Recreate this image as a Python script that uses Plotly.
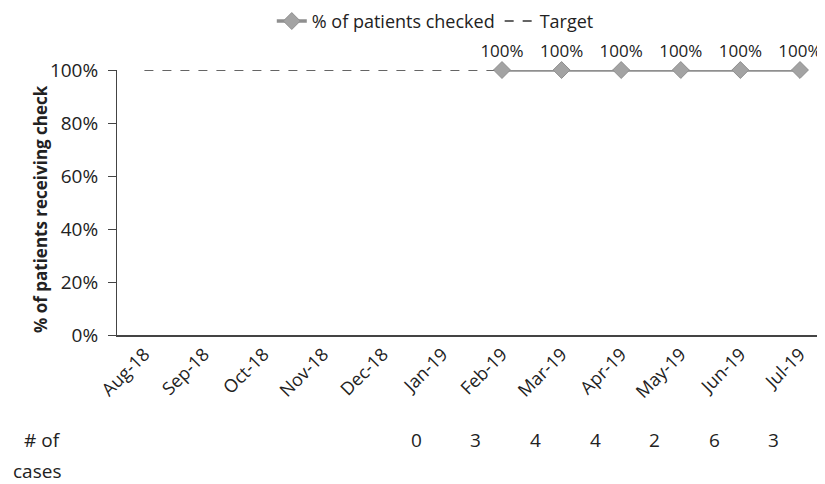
import plotly.graph_objects as go

months = ["Aug-18", "Sep-18", "Oct-18", "Nov-18", "Dec-18", "Jan-19",
          "Feb-19", "Mar-19", "Apr-19", "May-19", "Jun-19", "Jul-19"]
pct_checked = [None, None, None, None, None, None, 1.0, 1.0, 1.0, 1.0, 1.0, 1.0]
target = [1.0] * 12
cases_months = ["Jan-19", "Feb-19", "Mar-19", "Apr-19", "May-19", "Jun-19", "Jul-19"]
cases = [0, 3, 4, 4, 2, 6, 3]

FONT = "Open Sans"
TXT = "#222222"
fig = go.Figure()
fig.add_trace(go.Scatter(
    x=months, y=target, mode="lines", name="Target",
    line=dict(color="#333333", width=1.5, dash="dash"),
))
fig.add_trace(go.Scatter(
    x=months, y=pct_checked, mode="lines+markers+text", name="% of patients checked",
    line=dict(color="#8f8f8f", width=3.5),
    marker=dict(symbol="diamond", size=13, color="#a3a3a3", line=dict(color="#8f8f8f", width=1)),
    text=[f"{v:.0%}" if v is not None else "" for v in pct_checked],
    textposition="top center", textfont=dict(size=17, color=TXT, family=FONT),
    cliponaxis=False,
))

PW, PH = 708, 265  # plot area size in px
for m, c in zip(cases_months, cases):
    fig.add_annotation(x=m, y=(335 - 440) / PH, xref="x", yref="paper", text=str(c),
                       showarrow=False, xshift=-26, xanchor="center", yanchor="middle",
                       font=dict(size=19, color=TXT, family=FONT))
fig.add_annotation(x=(63 - 117) / PW, y=(335 - 440) / PH, xref="paper", yref="paper",
                   text="# of", showarrow=False, xanchor="right", yanchor="middle",
                   font=dict(size=19, color=TXT, family=FONT))
fig.add_annotation(x=(63 - 117) / PW, y=(335 - 471) / PH, xref="paper", yref="paper",
                   text="cases", showarrow=False, xanchor="right", yanchor="middle",
                   font=dict(size=19, color=TXT, family=FONT))
fig.add_annotation(x=(40 - 117) / PW, y=(335 - 209) / PH, xref="paper", yref="paper",
                   text="<b>% of patients receiving check</b>", showarrow=False,
                   xanchor="center", yanchor="middle",
                   textangle=-90, font=dict(size=17, color=TXT, family=FONT))

fig.update_layout(
    width=817, height=476,
    margin=dict(l=109, r=0, t=62, b=149, autoexpand=False),
    plot_bgcolor="white", paper_bgcolor="white",
    font=dict(family=FONT, size=16, color=TXT),
    showlegend=True,
    legend=dict(orientation="h", xref="container", yref="container",
                x=0.523, y=0.972, xanchor="center", yanchor="middle",
                traceorder="reversed", font=dict(size=18, family=FONT, color=TXT)),
    xaxis=dict(
        type="category", range=[-0.46, 11.42], tickangle=-45, automargin=False,
        showline=True, linecolor="#444444", linewidth=1.5,
        showgrid=False, ticks="", tickfont=dict(size=18),
    ),
    yaxis=dict(
        range=[0, 1.0], tickformat=".0%", dtick=0.2, automargin=False,
        showline=True, linecolor="#444444", linewidth=1,
        showgrid=False, ticks="outside", ticklen=8, tickcolor="#444444",
        ticklabelstandoff=6,
        tickfont=dict(size=19), zeroline=False,
    ),
)
fig.write_html("out.html")
